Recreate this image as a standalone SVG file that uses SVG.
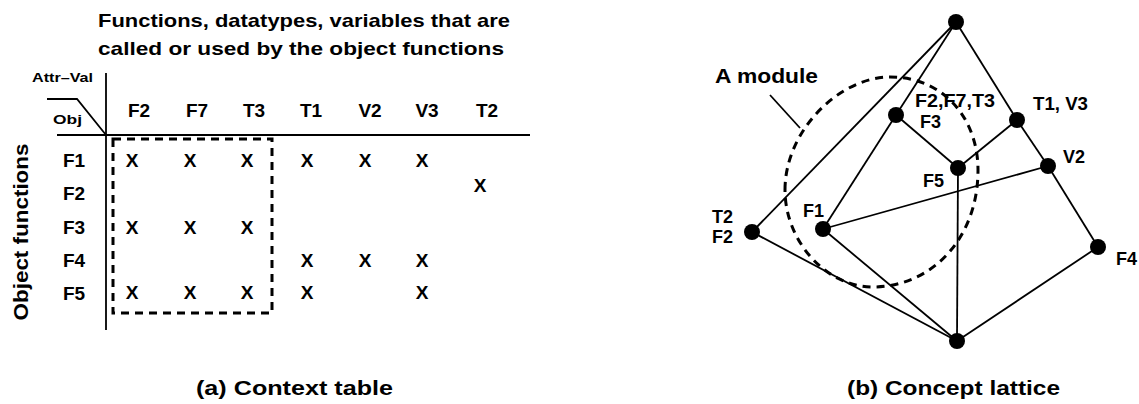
<svg xmlns="http://www.w3.org/2000/svg" width="1139" height="404" viewBox="0 0 1139 404">
<style>
  .t { font-family: "Liberation Sans", Arial, sans-serif; font-weight: bold; fill: #000; }
  .h { font-size: 19px; }
  .x { font-size: 19px; text-anchor: middle; }
  .s { font-size: 13px; }
  .lab { font-size: 18px; }
  .ln { stroke: #000; stroke-width: 1.8; fill: none; }
  .dash { stroke: #000; stroke-width: 3; fill: none; stroke-dasharray: 8 6; }
  .node { fill: #000; }
</style>
<rect width="1139" height="404" fill="#fff"/>

<!-- (a) Context table -->
<g id="table">
  <text class="t" x="98" y="27" font-size="19" textLength="412" lengthAdjust="spacingAndGlyphs">Functions, datatypes, variables that are</text>
  <text class="t" x="98" y="55" font-size="19" textLength="406" lengthAdjust="spacingAndGlyphs">called or used by the object functions</text>
  <text class="t s" x="32" y="82" textLength="61" lengthAdjust="spacingAndGlyphs">Attr–Val</text>
  <text class="t s" x="53" y="124" textLength="29" lengthAdjust="spacingAndGlyphs">Obj</text>
  <polyline class="ln" points="47,99 77,99 106,135" stroke-width="1.2"/>
  <line class="ln" x1="106" y1="73" x2="106" y2="330" stroke-width="1.5"/>
  <line class="ln" x1="57" y1="135" x2="530" y2="135" stroke-width="1.5"/>
  <text class="t" transform="translate(28,232) rotate(-90)" font-size="20" text-anchor="middle" textLength="177" lengthAdjust="spacingAndGlyphs">Object functions</text>
  <g class="t x">
    <text x="139" y="117">F2</text>
    <text x="197" y="117">F7</text>
    <text x="254" y="117">T3</text>
    <text x="311" y="117">T1</text>
    <text x="370" y="117">V2</text>
    <text x="427" y="117">V3</text>
    <text x="487" y="117">T2</text>
  </g>
  <g class="t h">
    <text x="63" y="167">F1</text>
    <text x="63" y="200">F2</text>
    <text x="63" y="234">F3</text>
    <text x="63" y="267">F4</text>
    <text x="63" y="300">F5</text>
  </g>
  <g class="t x" font-size="19">
    <text x="132" y="167">X</text><text x="190" y="167">X</text><text x="247" y="167">X</text>
    <text x="307" y="167">X</text><text x="365" y="167">X</text><text x="422" y="167">X</text>
    <text x="480" y="192">X</text>
    <text x="132" y="234">X</text><text x="190" y="234">X</text><text x="247" y="234">X</text>
    <text x="307" y="267">X</text><text x="365" y="267">X</text><text x="422" y="267">X</text>
    <text x="132" y="299">X</text><text x="190" y="299">X</text><text x="247" y="299">X</text>
    <text x="307" y="299">X</text><text x="422" y="299">X</text>
  </g>
  <rect class="dash" x="113" y="139" width="159" height="174" stroke-width="2.5"/>
  <text class="t" x="196" y="395" font-size="20" textLength="197" lengthAdjust="spacingAndGlyphs">(a) Context table</text>
</g>

<!-- (b) Concept lattice -->
<g id="connectors">
  <line class="ln" x1="956" y1="22" x2="752" y2="232" stroke-width="2.6"/>
  <line class="ln" x1="956" y1="22" x2="896" y2="115"/>
  <line class="ln" x1="956" y1="22" x2="1017" y2="120"/>
  <line class="ln" x1="896" y1="115" x2="958" y2="168"/>
  <line class="ln" x1="896" y1="115" x2="823" y2="229"/>
  <line class="ln" x1="1017" y1="120" x2="958" y2="168"/>
  <line class="ln" x1="1017" y1="120" x2="1048" y2="166"/>
  <line class="ln" x1="1048" y1="166" x2="1098" y2="247"/>
  <line class="ln" x1="1048" y1="166" x2="823" y2="229"/>
  <line class="ln" x1="958" y1="168" x2="957" y2="341" stroke-width="1.3"/>
  <line class="ln" x1="752" y1="232" x2="957" y2="341"/>
  <line class="ln" x1="823" y1="229" x2="957" y2="341"/>
  <line class="ln" x1="1098" y1="247" x2="957" y2="341"/>
  <line class="ln" x1="770" y1="95" x2="800" y2="128" stroke-width="1"/>
</g>
<g id="module">
  <path class="dash" d="M785,190 C785,130 840,77 890,77 C945,77 978,120 978,170 C978,240 930,287 873,287 C825,287 785,240 785,190 Z"/>
  <text class="t" x="715" y="83" font-size="20" textLength="103" lengthAdjust="spacingAndGlyphs">A module</text>
</g>
<g id="n-top"><circle class="node" cx="956" cy="22" r="8"/></g>
<g id="n-f3"><circle class="node" cx="896" cy="115" r="8"/>
  <text class="t lab" x="915" y="107" textLength="80" lengthAdjust="spacingAndGlyphs">F2,F7,T3</text>
  <text class="t lab" x="920" y="128">F3</text></g>
<g id="n-t1v3"><circle class="node" cx="1017" cy="120" r="8"/>
  <text class="t lab" x="1033" y="110" textLength="55" lengthAdjust="spacingAndGlyphs">T1, V3</text></g>
<g id="n-f5"><circle class="node" cx="958" cy="168" r="8"/>
  <text class="t lab" x="923" y="187">F5</text></g>
<g id="n-v2"><circle class="node" cx="1048" cy="166" r="8"/>
  <text class="t lab" x="1063" y="163">V2</text></g>
<g id="n-t2f2"><circle class="node" cx="752" cy="232" r="8"/>
  <text class="t lab" x="712" y="223">T2</text>
  <text class="t lab" x="712" y="243">F2</text></g>
<g id="n-f1"><circle class="node" cx="823" cy="229" r="8"/>
  <text class="t lab" x="803" y="217">F1</text></g>
<g id="n-f4"><circle class="node" cx="1098" cy="247" r="8"/>
  <text class="t lab" x="1116" y="265">F4</text></g>
<g id="n-bottom"><circle class="node" cx="957" cy="341" r="8"/></g>
<text class="t" x="847" y="395" font-size="20" textLength="213" lengthAdjust="spacingAndGlyphs">(b) Concept lattice</text>
</svg>
